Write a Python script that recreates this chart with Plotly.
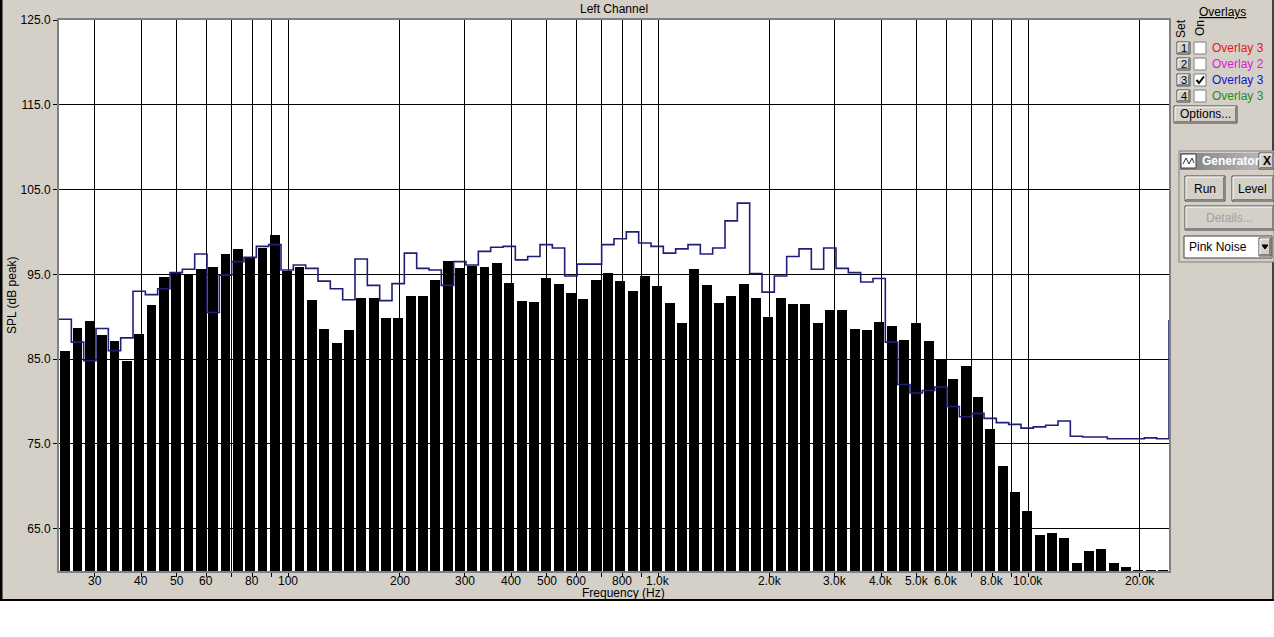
import numpy as np
import plotly.graph_objects as go

# ---------------- data ----------------
BAND_LO_HZ = 24.0
BAND_HI_HZ = 24000.0
N_BANDS = 90

spl_bars = [85.9, 88.7, 89.5, 87.8, 87.1, 84.8, 88.0, 91.4, 94.7, 95.3,
            95.0, 95.6, 95.9, 97.4, 98.0, 97.0, 98.1, 99.6, 95.4, 95.9,
            92.0, 88.5, 86.9, 88.4, 92.2, 92.2, 89.8, 89.8, 92.4, 92.4,
            94.3, 96.6, 95.7, 96.0, 95.9, 96.3, 94.0, 91.9, 91.7, 94.6,
            93.9, 92.8, 92.1, 94.3, 95.2, 94.2, 93.0, 94.8, 93.6, 91.6,
            89.3, 95.6, 93.7, 91.6, 92.4, 93.9, 92.2, 90.0, 92.2, 91.5,
            91.5, 89.3, 90.8, 90.8, 88.6, 88.4, 89.4, 88.9, 87.3, 89.3,
            87.1, 85.0, 82.7, 84.2, 80.5, 76.8, 72.4, 69.3, 67.1, 64.3,
            64.5, 63.9, 61.0, 62.4, 62.6, 61.0, 60.5, 60.15, 60.15, 60.15]

overlay3 = [89.7, 87.0, 84.8, 88.6, 86.0, 87.5, 93.0, 92.6, 93.3, 95.2,
            95.6, 97.4, 90.5, 94.9, 96.5, 97.0, 98.3, 98.5, 95.5, 96.1,
            95.7, 94.2, 93.3, 92.0, 96.8, 93.7, 91.9, 93.9, 97.5, 95.7,
            95.5, 93.7, 96.5, 96.1, 97.7, 98.2, 98.3, 96.7, 97.1, 98.5,
            98.1, 94.8, 96.2, 96.2, 98.5, 99.2, 100.0, 98.7, 98.3, 97.5,
            98.0, 98.5, 97.4, 98.1, 101.3, 103.4, 95.1, 92.9, 94.8, 97.1,
            98.0, 95.6, 98.1, 95.7, 95.2, 94.1, 94.5, 87.0, 82.0, 81.0,
            81.3, 81.7, 79.4, 78.2, 78.6, 78.0, 77.5, 77.3, 76.85, 77.0,
            77.2, 77.7, 75.9, 75.8, 75.8, 75.6, 75.6, 75.6, 75.7, 75.6]
overlay3_end = 89.6

grid_freqs = [30, 40, 50, 60, 70, 80, 90, 100, 200, 300, 400, 500, 600, 700, 800, 900,
              1000, 2000, 3000, 4000, 5000, 6000, 7000, 8000, 9000, 10000, 20000]
grid_labels = ["30", "40", "50", "60", "", "80", "", "100", "200", "300", "400", "500",
               "600", "", "800", "", "1.0k", "2.0k", "3.0k", "4.0k", "5.0k", "6.0k", "",
               "8.0k", "", "10.0k", "20.0k"]
y_ticks = [65, 75, 85, 95, 105, 115, 125]
y_labels = ["65.0", "75.0", "85.0", "95.0", "105.0", "115.0", "125.0"]

# ---------------- geometry helpers ----------------
W, H = 1274, 637
L, R, T, B = 59, 1169, 20, 571
GRAY = "#d4d0c8"
FONT = "Liberation Sans"


def px(x):
    return (x - L) / (R - L)


def py(y):
    return (B - y) / (B - T)


lo, hi = np.log10(BAND_LO_HZ), np.log10(BAND_HI_HZ)
step = (hi - lo) / N_BANDS
edges = lo + step * np.arange(N_BANDS + 1)
centers = edges[:-1] + step / 2

fig = go.Figure()
fig.add_trace(go.Bar(x=centers, y=spl_bars, width=step * 0.81,
                     marker=dict(color="black", line=dict(width=0)),
                     hoverinfo="skip"))
fig.add_trace(go.Scatter(x=edges, y=list(overlay3) + [overlay3_end], mode="lines",
                         line=dict(shape="hv", color="#1f1f78", width=1.6),
                         hoverinfo="skip"))

shapes = []
annos = []


def rect(x0, y0, x1, y1, fill, line=None, lw=1):
    shapes.append(dict(type="rect", xref="paper", yref="paper",
                       x0=px(x0), x1=px(x1), y0=py(y1), y1=py(y0),
                       fillcolor=fill, line=dict(width=lw if line else 0, color=line or fill),
                       layer="above"))


def hline(x0, x1, y, color, lw=1):
    shapes.append(dict(type="line", xref="paper", yref="paper", x0=px(x0), x1=px(x1),
                       y0=py(y), y1=py(y), line=dict(color=color, width=lw), layer="above"))


def vline(x, y0, y1, color, lw=1):
    shapes.append(dict(type="line", xref="paper", yref="paper", x0=px(x), x1=px(x),
                       y0=py(y0), y1=py(y1), line=dict(color=color, width=lw), layer="above"))


def text(x, y, s, size=12, color="black", xa="center", ya="middle", angle=0, bold=False):
    annos.append(dict(x=px(x), y=py(y), xref="paper", yref="paper", text=("<b>%s</b>" % s) if bold else s,
                      showarrow=False, xanchor=xa, yanchor=ya, textangle=angle,
                      font=dict(family=FONT, size=size, color=color)))


def button(x0, y0, x1, y1, label=None, color="black", size=12):
    rect(x0, y0, x1, y1, GRAY, "#404040", 1)
    hline(x0 + 1, x1 - 1, y0 + 1, "white")
    vline(x0 + 1, y0 + 1, y1 - 1, "white")
    hline(x0 + 1, x1 - 1, y1 - 1.5, "#808080")
    vline(x1 - 1.5, y0 + 1, y1 - 1, "#808080")
    if label:
        text((x0 + x1) / 2, (y0 + y1) / 2, label, size=size, color=color)


# x tick labels placed from the axis scale (data x, paper y)
for f, lab in zip(grid_freqs, grid_labels):
    if lab:
        annos.append(dict(x=np.log10(f), y=py(581), xref="x", yref="paper", text=lab,
                          showarrow=False, xanchor="center", yanchor="middle",
                          font=dict(family=FONT, size=12, color="black")))

# white strip below the window and frame lines
rect(-2, 600, W + 2, H + 2, "white")
vline(1, 0, 600, "black", 3)
vline(W - 1, 0, 600, "#404040", 2)
hline(0, W, 600, "black", 2)

# titles
text(614, 9, "Left Channel", size=12)
text(623, 593, "Frequency (Hz)", size=12)
text(12, 295, "SPL (dB peak)", size=12, angle=-90)

# right-hand panel: overlays
text(1222, 12, "<u>Overlays</u>", size=12)
text(1181, 28, "Set", size=12, angle=-90)
text(1200, 28, "On", size=12, angle=-90)
ov_names = ["Overlay 3", "Overlay 2", "Overlay 3", "Overlay 3"]
ov_colors = ["#e8141e", "#d21ed2", "#1414c8", "#1e8c1e"]
for i in range(4):
    yc = 48 + 16 * i
    button(1177, yc - 6, 1190, yc + 6, str(i + 1), size=11)
    rect(1194, yc - 6, 1206, yc + 6, "white", "#808080", 1)
    text(1210, yc, ov_names[i], size=12, color=ov_colors[i], xa="left")
# check mark in box 3
yc = 80
shapes.append(dict(type="path", xref="paper", yref="paper",
                   path="M %f %f L %f %f L %f %f" % (px(1196.5), py(yc), px(1199), py(yc + 3),
                                                      px(1204), py(yc - 3.5)),
                   line=dict(color="black", width=2), layer="above"))
button(1174, 106, 1237, 123, "Options...")

# generator window
rect(1179, 151, W, 262, GRAY, "#808080", 1)
n = 12
for k in range(n):
    g = int(128 + (192 - 128) * k / (n - 1))
    rect(1180 + (W - 1180) * k / n, 153, 1180 + (W - 1180) * (k + 1) / n + 0.5, 170,
         "rgb(%d,%d,%d)" % (g, g, g))
rect(1181, 154, 1196, 168, "white", "#404040", 1)
shapes.append(dict(type="path", xref="paper", yref="paper",
                   path="M %f %f L %f %f L %f %f L %f %f L %f %f" % (
                       px(1183), py(164), px(1186), py(158), px(1189), py(164),
                       px(1192), py(158), px(1194), py(163)),
                   line=dict(color="#303030", width=1), layer="above"))
text(1200, 161.5, "Generator", size=12, color="white", xa="left", bold=True)
button(1259, 153, W, 169, "<b>X</b>", size=12)
button(1185, 176, 1225, 201, "Run")
button(1232, 176, W, 201, "Level")
button(1185, 206, W, 230, "Details...", color="#a0a0a0")
rect(1184, 236, 1272, 258, "white", "#404040", 1)
text(1187, 247, "Pink Noise", size=12, xa="left")
button(1259, 238, 1271, 256)
shapes.append(dict(type="path", xref="paper", yref="paper",
                   path="M %f %f L %f %f L %f %f Z" % (px(1262), py(245), px(1268), py(245),
                                                        px(1265), py(249)),
                   fillcolor="black", line=dict(color="black", width=1), layer="above"))

fig.update_layout(
    width=W, height=H,
    margin=dict(l=L, r=W - R, t=T, b=H - B, pad=0),
    paper_bgcolor=GRAY, plot_bgcolor="white",
    showlegend=False, bargap=0, hovermode=False,
    font=dict(family=FONT, size=12, color="black"),
    xaxis=dict(range=[lo, hi], tickmode="array",
               tickvals=[np.log10(f) for f in grid_freqs], ticktext=[""] * len(grid_freqs),
               showticklabels=True,
               showgrid=True, gridcolor="black", gridwidth=1,
               ticks="outside", ticklen=4, tickcolor="black",
               showline=True, linecolor="#808080", linewidth=2, mirror=True,
               zeroline=False, fixedrange=True),
    yaxis=dict(range=[60, 125], tickmode="array", tickvals=y_ticks, ticktext=y_labels,
               showgrid=True, gridcolor="black", gridwidth=1,
               ticks="outside", ticklen=4, tickcolor="black",
               showline=True, linecolor="#808080", linewidth=2, mirror=True,
               zeroline=False, fixedrange=True,
               tickfont=dict(family=FONT, size=12, color="black")),
    shapes=shapes, annotations=annos,
)

fig.write_html("out.html", config={"displayModeBar": False, "staticPlot": True},
               post_script="document.body.style.margin='0px';document.body.style.overflow='hidden';")
